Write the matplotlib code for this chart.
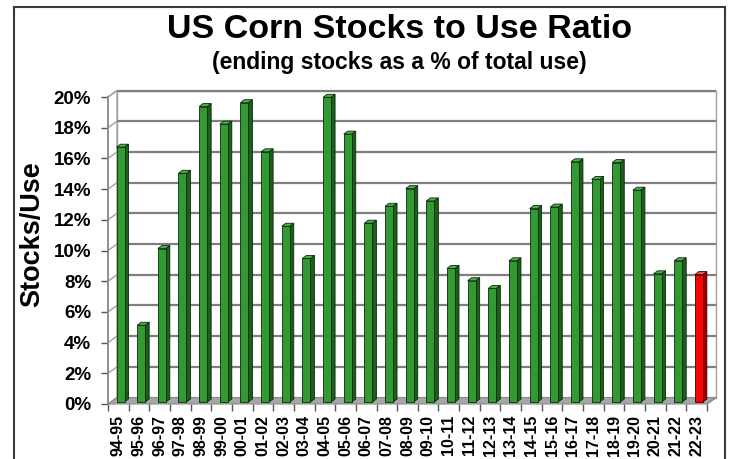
import matplotlib
matplotlib.use("Agg")
import matplotlib.pyplot as plt
from matplotlib.patches import Polygon, Rectangle

plt.rcParams['font.family'] = ['Liberation Sans', 'DejaVu Sans']

years = ["94-95", "95-96", "96-97", "97-98", "98-99", "99-00", "00-01", "01-02",
         "02-03", "03-04", "04-05", "05-06", "06-07", "07-08", "08-09", "09-10",
         "10-11", "11-12", "12-13", "13-14", "14-15", "15-16", "16-17", "17-18",
         "18-19", "19-20", "20-21", "21-22", "22-23"]
ratio = [16.6, 5.0, 10.0, 14.9, 19.25, 18.1, 19.5, 16.3, 11.45, 9.35, 19.85, 17.45,
         11.65, 12.75, 13.9, 13.1, 8.7, 7.9, 7.4, 9.2, 12.6, 12.7, 15.65, 14.5,
         15.6, 13.8, 8.35, 9.2, 8.3]
yticks = [0, 2, 4, 6, 8, 10, 12, 14, 16, 18, 20]

W, H = 734, 459
fig = plt.figure(figsize=(W / 100, H / 100), dpi=100)
L, R, B, T = 108, 707, 404, 97
ax = fig.add_axes([L / W, (H - B) / H, (R - L) / W, (B - T) / H])
n = len(years)
xmin, xmax = -0.5, n - 0.5
ax.set_xlim(xmin, xmax)
ax.set_ylim(0, 20)
sx = (R - L) / n
sy = (B - T) / 20.0

def px(dx, dy):
    return dx / sx, dy / sy

DX, DY = px(9, 6.5)
grid_c = '#7f7f7f'

# back wall
ax.add_patch(Rectangle((xmin + DX, DY), xmax - xmin, 20, facecolor='white',
                       edgecolor='#a0a0a0', lw=1.0, clip_on=False, zorder=0))
# left wall
ax.add_patch(Polygon([(xmin, 0), (xmin + DX, DY), (xmin + DX, 20 + DY), (xmin, 20)],
                     closed=True, facecolor='white', edgecolor='#a0a0a0', lw=1.0,
                     clip_on=False, zorder=0.5))
# floor
ax.add_patch(Polygon([(xmin, 0), (xmax, 0), (xmax + DX, DY), (xmin + DX, DY)],
                     closed=True, facecolor='#a6a6a6', edgecolor='#8a8a8a', lw=0.8,
                     clip_on=False, zorder=1))
# gridlines
for v in yticks[1:]:
    ax.plot([xmin + DX, xmax + DX], [v + DY, v + DY], color=grid_c, lw=1.6,
            clip_on=False, zorder=1, solid_capstyle='butt')
    ax.plot([xmin, xmin + DX], [v, v + DY], color='#a0a0a0', lw=1.0,
            clip_on=False, zorder=1)
ax.plot([xmin, xmin], [0, 20], color='#8a8a8a', lw=1.2, clip_on=False, zorder=2)
ax.plot([xmax, xmax + DX], [0, DY], color='#8a8a8a', lw=1.0, clip_on=False, zorder=2)

# bars
w = 8 / sx
bx, by = px(2.2, 2)
ddx, ddy = px(4, 3)
for i, v in enumerate(ratio):
    last = (i == n - 1)
    fc = '#ff0000' if last else '#339933'
    sc = '#9a0000' if last else '#1d5e1d'
    tc = '#ff4d4d' if last else '#4caf4c'
    ec = '#400000' if last else '#0a2a0a'
    x0 = i - w / 2 + bx
    x1 = x0 + w
    y0, y1 = by, v + by
    ax.add_patch(Polygon([(x1, y0), (x1 + ddx, y0 + ddy), (x1 + ddx, y1 + ddy), (x1, y1)],
                         closed=True, facecolor=sc, edgecolor=ec,
                         lw=0.6, clip_on=False, zorder=3))
    ax.add_patch(Polygon([(x0, y1), (x1, y1), (x1 + ddx, y1 + ddy), (x0 + ddx, y1 + ddy)],
                         closed=True, facecolor=tc, edgecolor=ec,
                         lw=0.6, clip_on=False, zorder=3))
    ax.add_patch(Rectangle((x0, y0), w, v, facecolor=fc, edgecolor=ec,
                           lw=0.6, clip_on=False, zorder=4))

for s in ax.spines.values():
    s.set_visible(False)
ax.set_facecolor('none')

ax.set_yticks(yticks)
ax.set_yticklabels([f"{v}%" for v in yticks], fontsize=13.5, fontweight='bold')
ax.set_xticks(range(n))
ax.set_xticklabels(years, rotation=90, fontsize=11.5, fontweight='bold')
ax.set_xticks([k - 0.5 for k in range(n + 1)], minor=True)
ax.tick_params(axis='x', which='major', length=0, pad=8)
ax.tick_params(axis='x', which='minor', length=5, color='#555555', width=1)
ax.tick_params(axis='y', length=5, color='#555555', width=1, pad=7)

fig.text(32 / W, 1 - 234 / H, "Stocks/Use", rotation=90, ha='center', va='center',
         fontsize=19.5, fontweight='bold')
fig.text(400 / W, 1 - 30 / H, "US Corn Stocks to Use Ratio", ha='center', va='center',
         fontsize=24.5, fontweight='bold')
fig.text(399 / W, 1 - 63 / H, "(ending stocks as a % of total use)", ha='center',
         va='center', fontsize=16.5, fontweight='bold')

# outer frame
fig.patches.append(Rectangle((13.5 / W, -0.1), (725 - 13.5) / W, 1.1 - 7.5 / H,
                             transform=fig.transFigure, fill=False,
                             edgecolor='#3a3a3a', lw=1.5))

fig.savefig("out.png", dpi=100, facecolor='white')
